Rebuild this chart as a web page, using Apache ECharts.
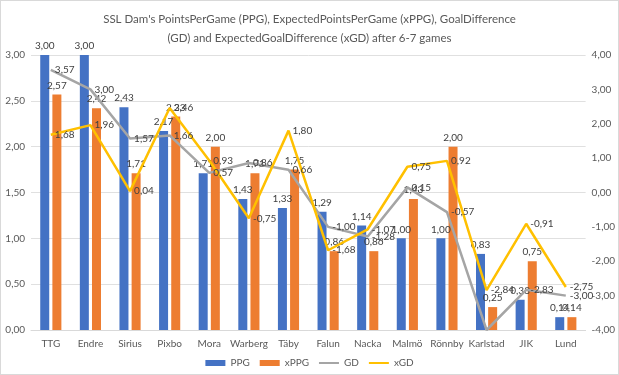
<!DOCTYPE html>
<html lang="en">
<head>
    <meta charset="UTF-8">
    <title>SSL Dam</title>
    <script src="https://cdn.jsdelivr.net/npm/echarts@6/dist/echarts.min.js"></script>
</head>
<style>
    body{
        margin: 0;
        padding: 0;
        background: #fff;
    }
</style>
<body>
<div id="main" style="width: 617px;height:373px;border:1px solid #d9d9d9"></div>
<script>
    var teams = ['TTG', 'Endre', 'Sirius', 'Pixbo', 'Mora', 'Warberg', 'Täby', 'Falun', 'Nacka', 'Malmö', 'Rönnby', 'Karlstad', 'JIK', 'Lund'];
    var ppg  = [3.00, 3.00, 2.43, 2.17, 1.71, 1.43, 1.33, 1.29, 1.14, 1.00, 1.00, 0.83, 0.33, 0.14];
    var xppg = [2.57, 2.42, 1.71, 2.33, 2.00, 1.71, 1.75, 0.86, 0.86, 1.43, 2.00, 0.25, 0.75, 0.14];
    var gd   = [3.57, 3.00, 1.57, 1.66, 0.57, 0.86, 0.66, -1.00, -1.28, 0.15, -0.57, -4.00, -2.83, -3.00];
    var xgd  = [1.68, 1.96, 0.04, 2.46, 0.93, -0.75, 1.80, -1.68, -1.07, 0.75, 0.92, -2.84, -0.91, -2.75];

    var font = 'Lato';
    var fmt = function (v) { return Number(v).toFixed(2).replace('.', ','); };
    var lbl = function (pos) {
        return {
            show: true, position: pos, fontSize: 10, color: '#404040', fontFamily: font, distance: 4,
            formatter: function (p) { return fmt(p.value); }
        };
    };
    // the label of the point sitting on the bottom edge is not shown in the original
    var gdData = gd.map(function (v) {
        return v <= -4 ? {value: v, label: {show: false}} : v;
    });

    var chart = echarts.init(document.getElementById("main"));
    var option = {
        animation: false,
        textStyle: {fontFamily: font},
        title: {
            text: "SSL Dam's PointsPerGame (PPG), ExpectedPointsPerGame (xPPG), GoalDifference\n(GD) and ExpectedGoalDifference (xGD) after 6-7 games",
            left: 'center',
            top: 4,
            textStyle: {fontSize: 11.5, fontWeight: 'normal', color: '#595959', fontFamily: font, lineHeight: 19}
        },
        legend: {
            bottom: 1,
            itemWidth: 20,
            itemHeight: 6,
            itemGap: 10,
            textStyle: {fontSize: 10, color: '#595959', fontFamily: font},
            data: [
                {name: 'PPG', icon: 'rect'},
                {name: 'xPPG', icon: 'rect'},
                {name: 'GD', icon: 'path://M0,0 L20,0 L20,2 L0,2 Z'},
                {name: 'xGD', icon: 'path://M0,0 L20,0 L20,2 L0,2 Z'}
            ]
        },
        grid: {left: 30, right: 29, top: 54, bottom: 44},
        xAxis: {
            type: 'category',
            data: teams,
            axisTick: {show: false},
            axisLine: {lineStyle: {color: '#d9d9d9'}},
            axisLabel: {fontSize: 10, color: '#595959', margin: 9, interval: 0, fontFamily: font}
        },
        yAxis: [{
            type: 'value', min: 0, max: 3, interval: 0.5,
            axisLabel: {fontSize: 10, color: '#595959', formatter: fmt, margin: 6, fontFamily: font},
            splitLine: {lineStyle: {color: '#e0e0e0'}}
        }, {
            type: 'value', min: -4, max: 4, interval: 1,
            axisLabel: {fontSize: 10, color: '#595959', formatter: fmt, margin: 6, fontFamily: font},
            splitLine: {show: false}
        }],
        series: [{
            name: 'PPG', type: 'bar', data: ppg, barWidth: 9, barGap: '35%',
            itemStyle: {color: '#4472C4'}, label: lbl('top')
        }, {
            name: 'xPPG', type: 'bar', data: xppg, barWidth: 9,
            itemStyle: {color: '#ED7D31'}, label: lbl('top')
        }, {
            name: 'GD', type: 'line', yAxisIndex: 1, data: gdData, symbol: 'circle', symbolSize: 0.1, showSymbol: true,
            lineStyle: {color: '#A5A5A5', width: 2.5}, itemStyle: {color: '#A5A5A5'}, label: lbl('right')
        }, {
            name: 'xGD', type: 'line', yAxisIndex: 1, data: xgd, symbol: 'circle', symbolSize: 0.1, showSymbol: true,
            lineStyle: {color: '#FFC000', width: 2.5}, itemStyle: {color: '#FFC000'}, label: lbl('right')
        }]
    };
    chart.setOption(option);
</script>
</body>
</html>
